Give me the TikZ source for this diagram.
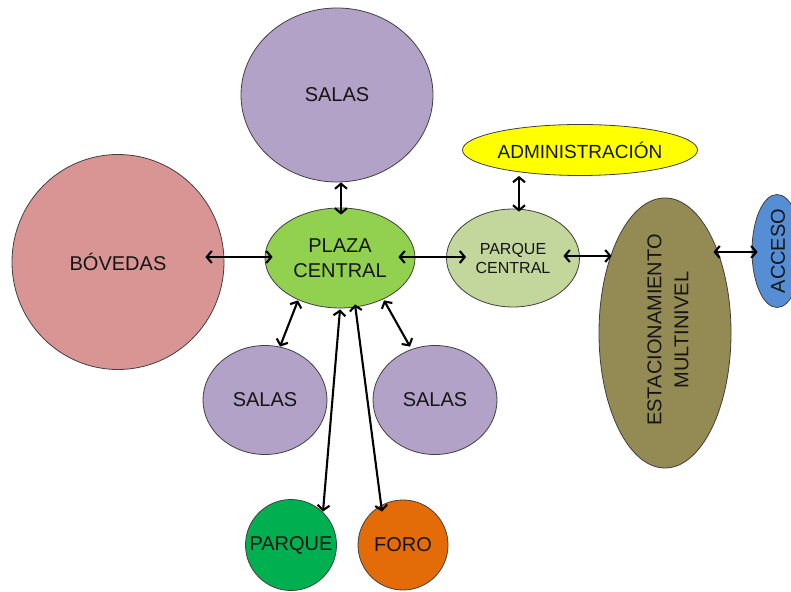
\documentclass[tikz,border=0pt]{standalone}
\usepackage{fontspec}
\setmainfont{Liberation Sans}
\usetikzlibrary{shapes.geometric,arrows.meta}
\definecolor{salasc}{HTML}{B3A2C7}
\definecolor{bovc}{HTML}{D99594}
\definecolor{plazac}{HTML}{92D050}
\definecolor{pcentc}{HTML}{C3D69B}
\definecolor{adminc}{HTML}{FFFF00}
\definecolor{estacc}{HTML}{948A54}
\definecolor{accesoc}{HTML}{558ED5}
\definecolor{parquec}{HTML}{00B050}
\definecolor{foroc}{HTML}{E36C09}
\definecolor{edgec}{HTML}{404040}
\definecolor{txtc}{HTML}{151515}
\tikzset{
  blob/.style={ellipse, draw=edgec, line width=0.8pt, inner sep=0pt, text=txtc,
    align=center, font=\fontsize{20}{25}\selectfont},
  lbl/.style={text=txtc, align=center, inner sep=0pt, font=\fontsize{20}{25}\selectfont},
  link/.style={line width=2.1pt, black, {Straight Barb[length=5pt,width=12pt]}-{Straight Barb[length=5pt,width=12pt]}}
}
\begin{document}
\begin{tikzpicture}[x=1pt,y=1pt]
\useasboundingbox (0,0) rectangle (791,591);
\node[blob, fill=salasc, minimum width=192pt, minimum height=174pt] (salasT) at (337,496) {SALAS};
\node[blob, fill=bovc, minimum width=212pt, minimum height=215pt] (bov) at (118,329) {BÓVEDAS};
\node[blob, fill=plazac, minimum width=150pt, minimum height=100pt] (plaza) at (340,333) {PLAZA\\CENTRAL};
\node[blob, fill=pcentc, minimum width=133pt, minimum height=98pt, font=\fontsize{16}{19}\selectfont] (pcent) at (513,333) {PARQUE\\CENTRAL};
\node[blob, fill=adminc, minimum width=235pt, minimum height=51pt, font=\fontsize{19}{23}\selectfont] (admin) at (580,441) {ADMINISTRACIÓN};
\node[blob, fill=estacc, minimum width=132pt, minimum height=270pt] (estac) at (665,258) {};
\node[lbl, rotate=90, font=\fontsize{20}{27}\selectfont] (estact) at (668,261) {ESTACIONAMIENTO\\MULTINIVEL};
\node[blob, fill=accesoc, minimum width=50pt, minimum height=113pt] (acceso) at (777,340) {};
\node[lbl, rotate=90] (accesot) at (778,340) {ACCESO};
\node[blob, fill=salasc, minimum width=124pt, minimum height=109pt] (salasL) at (265,191) {SALAS};
\node[blob, fill=salasc, minimum width=124pt, minimum height=109pt] (salasR) at (435,191) {SALAS};
\node[blob, fill=parquec, minimum width=91pt, minimum height=91pt] (parque) at (291,46) {};
\node[lbl] (parquet) at (291,46) {PARQUE};
\node[blob, fill=foroc, minimum width=90pt, minimum height=90pt] (foro) at (403,46) {FORO};
\draw[link] ([shift={(4,0)}]salasT.south) -- ([shift={(1,-7)}]plaza.north);
\draw[link] ([shift={(-19,5)}]bov.east) -- ([shift={(8,1)}]plaza.west);
\draw[link] ([shift={(-17,1)}]plaza.east) -- ([shift={(20,1)}]pcent.west);
\draw[link] ([shift={(-16.5,2)}]pcent.east) -- ([shift={(13,77)}]estac.west);
\draw[link] ([shift={(-18,81)}]estac.east) -- ([shift={(6,-1)}]acceso.west);
\draw[link] ([shift={(-61,0)}]admin.south) -- ([shift={(6,-3)}]pcent.north);
\draw[link] ([shift={(-42,8)}]plaza.south) -- ([shift={(15,-1.5)}]salasL.north);
\draw[link] ([shift={(44,8)}]plaza.south) -- ([shift={(-25,-1.5)}]salasR.north);
\draw[link] ([shift={(0,-1)}]plaza.south) -- ([shift={(32,-12.5)}]parque.north);
\draw[link] ([shift={(15,4)}]plaza.south) -- ([shift={(-21,-12)}]foro.north);
\end{tikzpicture}
\end{document}
